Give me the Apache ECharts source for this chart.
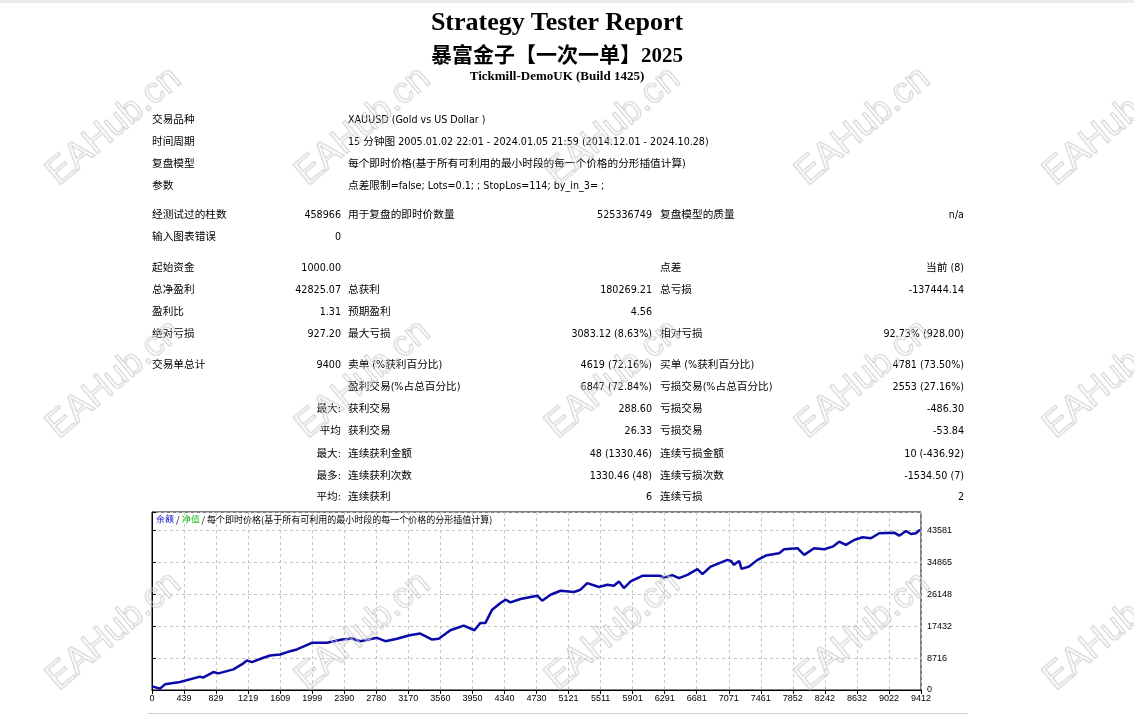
<!DOCTYPE html>
<html>
<head>
<meta charset="utf-8">
<script src="https://cdn.jsdelivr.net/npm/echarts@6/dist/echarts.min.js"></script>
<style>
  html, body { margin: 0; padding: 0; background: #fff; }
  #page { position: relative; width: 1134px; height: 715px; overflow: hidden; background: #fff; }
  #chart { position: absolute; left: 0; top: 0; width: 1134px; height: 715px; }
  .t { position: absolute; white-space: nowrap; font-family: "DejaVu Sans Condensed", "DejaVu Sans", "Noto Sans CJK SC", sans-serif; font-stretch: condensed; font-size: 10.67px; color: #000; line-height: 14px; }
  .r { text-align: right; }
  .hd { position: absolute; left: 0; width: 1114px; text-align: center; font-family: "Liberation Serif", "Noto Sans CJK SC", serif; font-weight: bold; color: #000; white-space: nowrap; }
  .wm { position: absolute; font-family: "Liberation Sans", Arial, sans-serif; font-size: 36px; color: transparent; -webkit-text-stroke: 1px #cdcdcd; transform: translate(-50%, -50%) rotate(-40deg); white-space: nowrap; pointer-events: none; }
</style>
</head>
<body>
<div id="page">
  <div style="position:absolute;left:0;top:0;width:1134px;height:3px;background:#ebebeb;"></div>
  <div id="chart"></div>
  <div id="texts"></div>
  <div style="position:absolute;left:148px;top:713px;width:820px;height:1px;background:#d0d0d0;"></div>
  <div id="wms"></div>
</div>
<script>
// ---------------- Chart data ----------------
const xTickLabels = ['0','439','829','1219','1609','1999','2390','2780','3170','3560','3950','4340','4730','5121','5511','5901','6291','6681','7071','7461','7852','8242','8632','9022','9412'];
const yTickLabels = ['0','8716','17432','26148','34865','43581'];
const tradeNo = [0,98,159,343,588,625,751,813,996,1099,1161,1222,1364,1446,1569,1691,1773,1957,2141,2325,2448,2549,2754,2856,2999,3153,3284,3428,3509,3652,3815,3946,4020,4081,4163,4265,4326,4387,4510,4715,4776,4878,5000,5163,5245,5327,5470,5573,5653,5715,5776,5858,6001,6217,6266,6369,6450,6553,6675,6737,6839,7043,7084,7124,7186,7215,7308,7411,7513,7675,7737,7901,7982,8104,8227,8330,8411,8493,8594,8697,8799,8901,9085,9146,9228,9289,9350,9400];
const balance = [1000,381,1553,2179,3650,3378,4903,4549,5639,6999,8088,7627,8826,9452,9725,10624,11087,12912,12912,13811,14083,13348,14274,13348,14001,14982,15445,13811,14001,16344,17624,16344,18360,18360,21983,23808,24707,23971,24898,25797,24435,26069,27159,26805,27431,29256,28167,28793,28521,29692,27894,29692,31245,31245,30782,31435,30618,31517,33070,31707,33778,35603,35331,34241,35331,33152,33778,35603,36774,37428,38518,38790,36965,38790,38518,39226,40588,39689,41051,41786,41514,42876,43039,42222,43502,42685,42876,43825];
const chartCaption = ['余额', '净值', '每个即时价格(基于所有可利用的最小时段的每一个价格的分形插值计算)'];

// ---------------- Report text ----------------
const headTitle = 'Strategy Tester Report';
const headName = '暴富金子【一次一单】2025';
const headServer = 'Tickmill-DemoUK (Build 1425)';
const infoRows = [
  ['交易品种', 'XAUUSD (Gold vs US Dollar )'],
  ['时间周期', '15 分钟图 2005.01.02 22:01 - 2024.01.05 21:59 (2014.12.01 - 2024.10.28)'],
  ['复盘模型', '每个即时价格(基于所有可利用的最小时段的每一个价格的分形插值计算)'],
  ['参数', '点差限制=false; Lots=0.1; ; StopLos=114; by_in_3= ;']
];
const statRows = [
  ['经测试过的柱数', '458966', '用于复盘的即时价数量', '525336749', '复盘模型的质量', 'n/a'],
  ['输入图表错误', '0', '', '', '', ''],
  ['起始资金', '1000.00', '', '', '点差', '当前 (8)'],
  ['总净盈利', '42825.07', '总获利', '180269.21', '总亏损', '-137444.14'],
  ['盈利比', '1.31', '预期盈利', '4.56', '', ''],
  ['绝对亏损', '927.20', '最大亏损', '3083.12 (8.63%)', '相对亏损', '92.73% (928.00)'],
  ['交易单总计', '9400', '卖单 (%获利百分比)', '4619 (72.16%)', '买单 (%获利百分比)', '4781 (73.50%)'],
  ['', '', '盈利交易(%占总百分比)', '6847 (72.84%)', '亏损交易(%占总百分比)', '2553 (27.16%)'],
  ['', '最大:', '获利交易', '288.60', '亏损交易', '-486.30'],
  ['', '平均', '获利交易', '26.33', '亏损交易', '-53.84'],
  ['', '最大:', '连续获利金额', '48 (1330.46)', '连续亏损金额', '10 (-436.92)'],
  ['', '最多:', '连续获利次数', '1330.46 (48)', '连续亏损次数', '-1534.50 (7)'],
  ['', '平均:', '连续获利', '6', '连续亏损', '2']
];
const infoY = [120, 142, 164, 186];
const statY = [215, 237, 268, 290, 312, 334, 365, 387, 409, 431, 454, 476, 497];

// ---------------- Build text ----------------
const texts = document.getElementById('texts');
function addDiv(txt, cls, style) {
  const d = document.createElement('div');
  d.className = cls;
  d.textContent = txt;
  Object.assign(d.style, style);
  texts.appendChild(d);
  return d;
}
addDiv(headTitle, 'hd', { top: '6px', fontSize: '26px', lineHeight: '32px' });
addDiv(headName, 'hd', { top: '41px', fontSize: '21px', lineHeight: '28px' });
addDiv(headServer, 'hd', { top: '68px', fontSize: '13px', lineHeight: '16px' });

function rowTop(cy) { return (cy - 7) + 'px'; }
infoRows.forEach((r, i) => {
  addDiv(r[0], 't', { left: '152px', top: rowTop(infoY[i]) });
  addDiv(r[1], 't', { left: '348px', top: rowTop(infoY[i]) });
});
statRows.forEach((r, i) => {
  const top = rowTop(statY[i]);
  if (r[0]) addDiv(r[0], 't', { left: '152px', top });
  if (r[1]) addDiv(r[1], 't r', { right: (1134 - 341) + 'px', top });
  if (r[2]) addDiv(r[2], 't', { left: '348px', top });
  if (r[3]) addDiv(r[3], 't r', { right: (1134 - 652) + 'px', top });
  if (r[4]) addDiv(r[4], 't', { left: '660px', top });
  if (r[5]) addDiv(r[5], 't r', { right: (1134 - 964) + 'px', top });
});

// watermarks
const wmCols = [113, 362, 612, 862, 1110];
const wmRows = [125, 378, 630];
const wms = document.getElementById('wms');
wmRows.forEach(y => wmCols.forEach(x => {
  const d = document.createElement('div');
  d.className = 'wm';
  d.textContent = 'EAHub.cn';
  d.style.left = x + 'px';
  d.style.top = y + 'px';
  wms.appendChild(d);
}));

// ---------------- Chart ----------------
const chart = echarts.init(document.getElementById('chart'), null, { renderer: 'canvas' });
const yInterval = 8716.2;
const lineData = tradeNo.map((t, i) => [t, balance[i]]);
chart.setOption({
  animation: false,
  backgroundColor: 'transparent',
  grid: { left: 152, top: 512, width: 769, height: 178, show: true, borderColor: '#000', borderWidth: 1, backgroundColor: '#fff' },
  xAxis: [
    {
      type: 'category', data: xTickLabels, boundaryGap: false, position: 'bottom',
      axisLine: { show: true, lineStyle: { color: '#000', width: 1 } },
      axisTick: { show: true, length: 4, interval: 0, lineStyle: { color: '#000' } },
      axisLabel: { interval: 0, fontSize: 9, color: '#000', margin: 4, fontFamily: 'Liberation Sans, Arial, sans-serif' },
      splitLine: { show: true, interval: 0, lineStyle: { color: '#c4c4c4', type: [3, 3], width: 1 } }
    },
    { type: 'value', min: 0, max: 9412, show: false }
  ],
  yAxis: {
    type: 'value', position: 'right', min: 0, max: 48700, interval: yInterval,
    axisLine: { show: true, lineStyle: { color: '#000', width: 1 } },
    axisTick: { show: true, length: 4, lineStyle: { color: '#000' } },
    axisLabel: {
      fontSize: 9, color: '#000', margin: 6, fontFamily: 'Liberation Sans, Arial, sans-serif',
      formatter: v => {
        const k = Math.round(v / yInterval);
        if (Math.abs(v - k * yInterval) > 1 || k >= yTickLabels.length) return '';
        return yTickLabels[k];
      }
    },
    splitLine: { show: true, lineStyle: { color: '#c4c4c4', type: [3, 3], width: 1 } }
  },
  graphic: [{
    type: 'text', left: 156, top: 515, z: 10,
    style: {
      text: '{b|' + chartCaption[0] + '} / {g|' + chartCaption[1] + '} / ' + chartCaption[2],
      fontSize: 9, fill: '#000', fontFamily: 'Noto Sans CJK SC, sans-serif',
      rich: { b: { fill: '#0000c8', fontSize: 9 }, g: { fill: '#00b000', fontSize: 9 } }
    }
  }],
  series: [{
    type: 'line', xAxisIndex: 1, data: lineData, showSymbol: false, symbol: 'none',
    lineStyle: { color: '#0a0aa8', width: 2.5 }, silent: true
  }]
});
</script>
</body>
</html>
